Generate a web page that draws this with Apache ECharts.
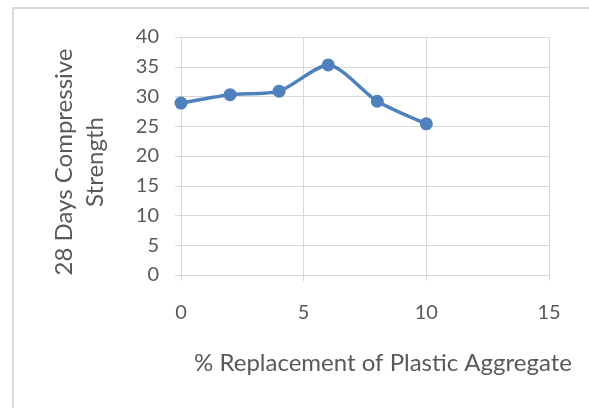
<!DOCTYPE html>
<html>
<head>
<meta charset="utf-8">
<script src="https://cdn.jsdelivr.net/npm/echarts@6/dist/echarts.min.js"></script>
<style>
  html, body { margin: 0; padding: 0; background: #ffffff; }
  #chart { width: 589px; height: 408px; }
</style>
</head>
<body>
<div id="chart"></div>
<script>
// Plastic aggregate replacement (%) vs 28-day compressive strength
var replacement = [0, 2, 4, 6, 8, 10];
var strength = [28.9, 30.3, 30.9, 35.3, 29.2, 25.4];
var xTicks = [0, 5, 10, 15];
var yTicks = [0, 5, 10, 15, 20, 25, 30, 35, 40];

var points = replacement.map(function (x, i) { return [x, strength[i]]; });
var textColor = '#595959';
var gridColor = '#d9d9d9';
var fontFam = 'Lato, "Open Sans", sans-serif';

var chart = echarts.init(document.getElementById('chart'), null, { renderer: 'canvas' });
chart.setOption({
  backgroundColor: '#ffffff',
  animation: false,
  graphic: [{
    type: 'rect',
    shape: { x: 13, y: 8, width: 600, height: 420 },
    style: { fill: 'none', stroke: '#d9d9d9', lineWidth: 2 }
  }],
  grid: { left: 181, right: 40, top: 37, bottom: 133, containLabel: false, outerBoundsMode: 'none' },
  xAxis: {
    type: 'value',
    min: xTicks[0],
    max: xTicks[xTicks.length - 1],
    interval: 5,
    name: '% Replacement of Plastic Aggregate',
    nameLocation: 'middle',
    nameGap: 76,
    nameTextStyle: { color: textColor, fontSize: 24, fontFamily: fontFam, padding: [0, 0, 0, 36] },
    axisLine: { show: true, lineStyle: { color: gridColor, width: 1 } },
    axisTick: { show: true, length: 6, lineStyle: { color: gridColor } },
    axisLabel: { color: textColor, fontSize: 20, fontFamily: fontFam, margin: 28 },
    splitLine: { show: true, lineStyle: { color: gridColor, width: 1 } }
  },
  yAxis: {
    type: 'value',
    min: yTicks[0],
    max: yTicks[yTicks.length - 1],
    interval: 5,
    name: '28 Days Compressive\nStrength',
    nameLocation: 'middle',
    nameRotate: 90,
    nameGap: 70,
    nameTextStyle: { color: textColor, fontSize: 24, fontFamily: fontFam, lineHeight: 31, align: 'center', padding: [0, 12, 0, 0] },
    axisLine: { show: false },
    axisTick: { show: true, length: 6, lineStyle: { color: gridColor } },
    axisLabel: { color: textColor, fontSize: 20, fontFamily: fontFam, margin: 22 },
    splitLine: { show: true, lineStyle: { color: gridColor, width: 1 } }
  },
  series: [{
    type: 'line',
    data: points,
    smooth: 0.25,
    symbol: 'circle',
    symbolSize: 13,
    lineStyle: { color: '#4f81bd', width: 3.5 },
    itemStyle: { color: '#4f81bd' }
  }]
});
</script>
</body>
</html>
